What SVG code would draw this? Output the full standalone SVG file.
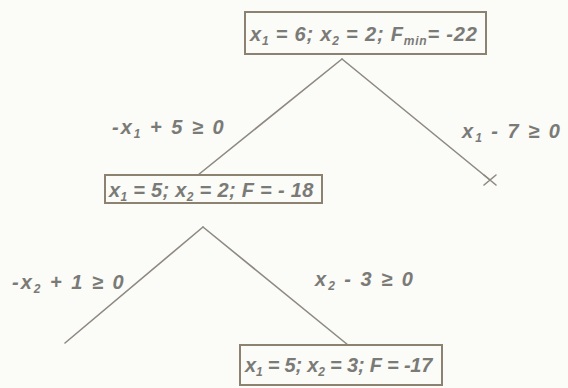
<svg xmlns="http://www.w3.org/2000/svg" width="568" height="388" viewBox="0 0 568 388">
<style>
.bg{fill:#fbfbf8}
.box{fill:none;stroke:#8c8272;stroke-width:2}
.ln{fill:none;stroke:#8e8a82;stroke-width:1.6;stroke-linecap:round}
.t{font-family:"Liberation Sans",Arial,sans-serif;font-style:italic;font-weight:bold;fill:#7a7a76;font-size:20px}
.s{font-size:12px}
.n{letter-spacing:0.8px}
.l{letter-spacing:2px}
</style>
<rect class="bg" x="0" y="0" width="568" height="388"/>
<g id="connectors">
<path class="ln" d="M342,59 L198,175"/>
<path class="ln" d="M342,59 L490,180"/>
<path class="ln" d="M484,175 L496,185 M496,175 L484,185"/>
<path class="ln" d="M203,227 L65,343"/>
<path class="ln" d="M203,227 L348,345"/>
</g>
<g id="node-root">
<rect class="box" x="245" y="12" width="241" height="42"/>
<text class="t n" x="250" y="41">x<tspan class="s" dy="4">1</tspan><tspan dy="-4"> = 6; x</tspan><tspan class="s" dy="4">2</tspan><tspan dy="-4"> = 2; F</tspan><tspan class="s" dy="4">min</tspan><tspan dy="-4">= -22</tspan></text>
</g>
<g id="node-left">
<rect class="box" x="105" y="175" width="217" height="28"/>
<text class="t" x="109" y="197" style="letter-spacing:0.3px">x<tspan class="s" dy="4">1</tspan><tspan dy="-4"> = 5; x</tspan><tspan class="s" dy="4">2</tspan><tspan dy="-4"> = 2; F = - 18</tspan></text>
</g>
<g id="node-bottom">
<rect class="box" x="240" y="345" width="202" height="40"/>
<text class="t" x="245" y="372" style="letter-spacing:-0.2px">x<tspan class="s" dy="4">1</tspan><tspan dy="-4"> = 5; x</tspan><tspan class="s" dy="4">2</tspan><tspan dy="-4"> = 3; F = -17</tspan></text>
</g>
<g id="labels">
<text class="t l" x="112" y="134">-x<tspan class="s" dy="4">1</tspan><tspan dy="-4"> + 5 ≥ 0</tspan></text>
<text class="t l" x="462" y="138">x<tspan class="s" dy="4">1</tspan><tspan dy="-4"> - 7 ≥ 0</tspan></text>
<text class="t l" x="12" y="289">-x<tspan class="s" dy="4">2</tspan><tspan dy="-4"> + 1 ≥ 0</tspan></text>
<text class="t l" x="315" y="286">x<tspan class="s" dy="4">2</tspan><tspan dy="-4"> - 3 ≥ 0</tspan></text>
</g>
</svg>
